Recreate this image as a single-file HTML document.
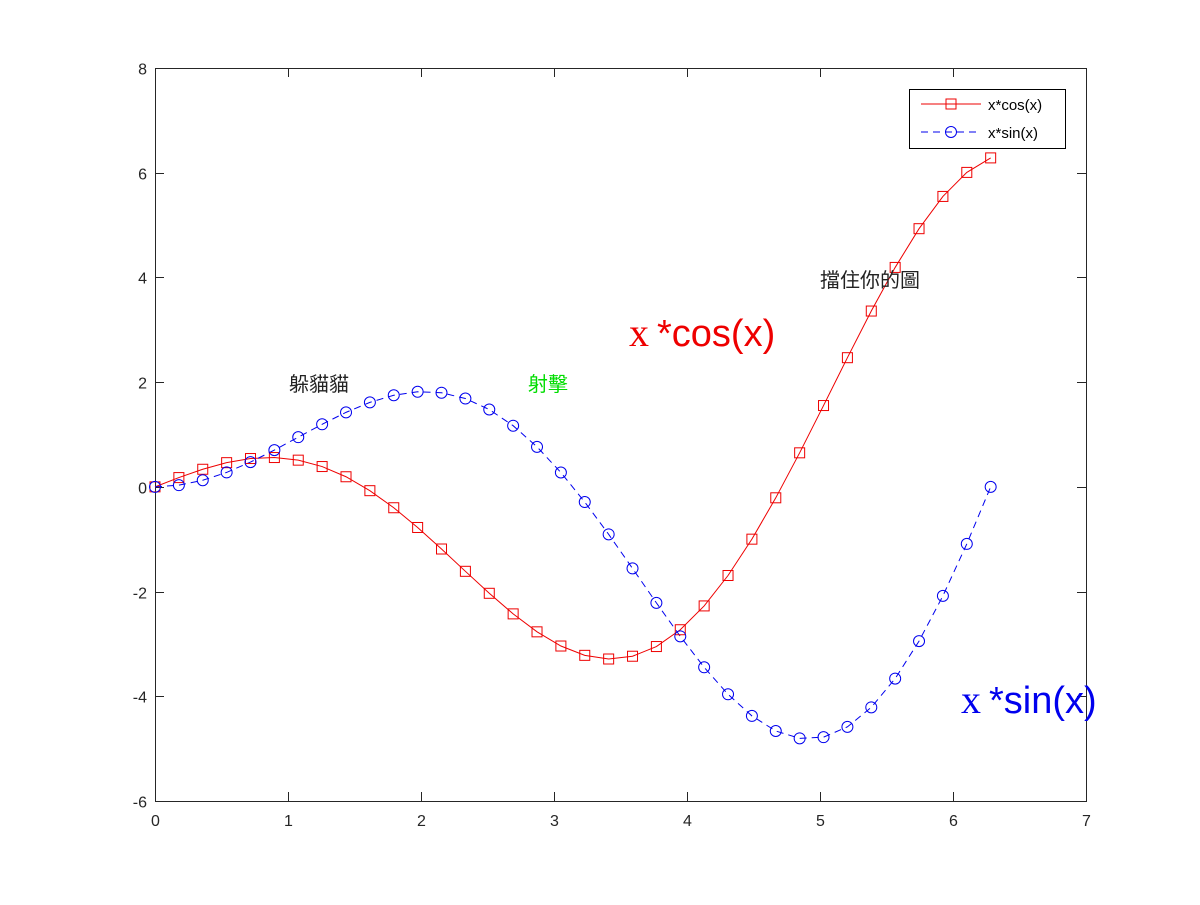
<!DOCTYPE html>
<html><head><meta charset="utf-8"><style>
html,body{margin:0;padding:0;background:#fff;}
svg text{font-family:"Liberation Sans","Noto Sans CJK TC",sans-serif;}
</style></head><body>
<svg id="chart" width="1200" height="900" xmlns="http://www.w3.org/2000/svg">
<rect width="1200" height="900" fill="#fff"/>
<g id="axes"></g>
<g id="series"></g>
<g id="annot">
<text x="289" y="391" font-size="20" fill="#222">躲貓貓</text>
<text x="528" y="391" font-size="20" fill="#00dd00">射擊</text>
<text x="820" y="287" font-size="20" fill="#222">擋住你的圖</text>
<text x="629" y="346" font-size="38" fill="#ee0000"><tspan font-family="Liberation Serif,serif" font-size="40">x</tspan><tspan dx="8">*cos(x)</tspan></text>
<text x="961" y="713" font-size="38" fill="#0000ee"><tspan font-family="Liberation Serif,serif" font-size="40">x</tspan><tspan dx="8">*sin(x)</tspan></text>
</g>
<g>
<rect x="909.5" y="89.5" width="156" height="59" fill="#fff" stroke="#000" stroke-width="1"/>
<line x1="921" y1="104" x2="981" y2="104" stroke="#ee0000" stroke-width="1"/>
<rect x="946" y="99" width="10" height="10" fill="none" stroke="#ee0000"/>
<text x="988" y="110" font-size="15" fill="#000">x*cos(x)</text>
<line x1="921" y1="132" x2="981" y2="132" stroke="#0000ee" stroke-dasharray="7,5" stroke-width="1"/>
<circle cx="951" cy="132" r="5.5" fill="none" stroke="#0000ee"/>
<text x="988" y="138" font-size="15" fill="#000">x*sin(x)</text>
</g>
</svg>
<script>
const xVals=[0,0.1795,0.3590,0.5386,0.7181,0.8976,1.0771,1.2566,1.4362,1.6157,1.7952,1.9747,2.1542,2.3338,2.5133,2.6928,2.8723,3.0518,3.2313,3.4109,3.5904,3.7699,3.9494,4.1289,4.3085,4.4880,4.6675,4.8470,5.0265,5.2061,5.3856,5.5651,5.7446,5.9241,6.1037,6.2832];
const cosVals=[0,0.177,0.336,0.462,0.541,0.560,0.510,0.388,0.193,-0.073,-0.399,-0.776,-1.187,-1.613,-2.033,-2.426,-2.769,-3.040,-3.218,-3.288,-3.235,-3.050,-2.729,-2.274,-1.693,-0.999,-0.209,0.650,1.553,2.467,3.358,4.191,4.931,5.547,6.006,6.283];
const sinVals=[0,0.032,0.126,0.276,0.473,0.702,0.949,1.195,1.423,1.614,1.750,1.816,1.798,1.687,1.477,1.168,0.764,0.274,-0.290,-0.907,-1.558,-2.216,-2.855,-3.446,-3.962,-4.375,-4.663,-4.803,-4.781,-4.584,-4.211,-3.662,-2.946,-2.082,-1.090,0];
const xTicks=[0,1,2,3,4,5,6,7];
const yTicks=[-6,-4,-2,0,2,4,6,8];
const L=155,R=1086,T=68,B=801;
const sx=v=>L+(v-0)/7*(R-L);
const sy=v=>B-(v+6)/14*(B-T);
const NS="http://www.w3.org/2000/svg";
function mk(tag,attrs,parent){const e=document.createElementNS(NS,tag);for(const k in attrs)e.setAttribute(k,attrs[k]);parent.appendChild(e);return e;}
const ax=document.getElementById('axes');
const box=mk('rect',{x:L+0.5,y:T+0.5,width:R-L,height:B-T,fill:'#fff',stroke:'#262626','stroke-width':1},ax);


xTicks.forEach(t=>{const x=Math.round(sx(t))+0.5;
mk('line',{x1:x,y1:B,x2:x,y2:B-9,stroke:'#262626'},ax);
mk('line',{x1:x,y1:T,x2:x,y2:T+9,stroke:'#262626'},ax);
const tx=mk('text',{x:x,y:B+25,'text-anchor':'middle','font-size':16,fill:'#262626'},ax);tx.textContent=t;

});
yTicks.forEach(t=>{const y=Math.round(sy(t))+0.5;
mk('line',{x1:L,y1:y,x2:L+9,y2:y,stroke:'#262626'},ax);
mk('line',{x1:R,y1:y,x2:R-9,y2:y,stroke:'#262626'},ax);
const tx=mk('text',{x:L-8,y:y+6,'text-anchor':'end','font-size':16,fill:'#262626'},ax);tx.textContent=t;

});
const sg=document.getElementById('series');
const pc=xVals.map((x,i)=>sx(x)+','+sy(cosVals[i])).join(' ');
const l1=mk('polyline',{points:pc,fill:'none',stroke:'#ee0000','stroke-width':1},sg);


const ps=xVals.map((x,i)=>sx(x)+','+sy(sinVals[i])).join(' ');
const l2=mk('polyline',{points:ps,fill:'none',stroke:'#0000ee','stroke-width':1,'stroke-dasharray':'7,5'},sg);


xVals.forEach((x,i)=>{
const r=mk('rect',{x:sx(x)-5,y:sy(cosVals[i])-5,width:10,height:10,fill:'none',stroke:'#ee0000'},sg);


const c=mk('circle',{cx:sx(x),cy:sy(sinVals[i]),r:5.5,fill:'none',stroke:'#0000ee'},sg);


});
</script>
</body></html>
